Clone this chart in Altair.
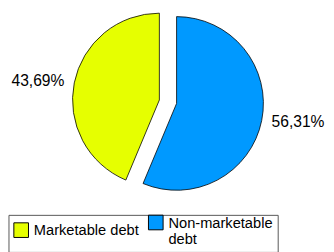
import math
import altair as alt
import pandas as pd

# ---- data ----
categories = ["Non-marketable debt", "Marketable debt"]
shares = [56.31, 43.69]
labels = ["56,31%", "43,69%"]
order = [0, 1]
legend_order = ["Marketable debt", "Non-marketable debt"]
legend_colors = ["#E6FF00", "#0099FF"]
title_text = "as of 31 December 2008"

FONT = "Liberation Sans"
EXPLODE = 9

df = pd.DataFrame({"category": categories, "share": shares, "label": labels, "order": order})

base = (
    alt.Chart(df)
    .transform_joinaggregate(total="sum(share)")
    .transform_window(cum="sum(share)", sort=[alt.SortField("order")], frame=[None, 0])
    .transform_calculate(
        start="(datum.cum - datum.share) / datum.total * 2 * PI",
        end="datum.cum / datum.total * 2 * PI",
        mid="(datum.cum - datum.share / 2) / datum.total * 2 * PI",
    )
)

# square symbol, raised so it sits level with the first line of each label
SQUARE_RAISED = "M-1,-1.69 L1,-1.69 L1,0.31 L-1,0.31 Z"

color = alt.Color(
    "category:N",
    scale=alt.Scale(domain=legend_order, range=legend_colors),
    legend=alt.Legend(
        title=None,
        orient="none",
        legendX=-1.5,
        legendY=209,
        direction="horizontal",
        columns=2,
        symbolType=SQUARE_RAISED,
        symbolSize=225,
        symbolStrokeColor="black",
        symbolStrokeWidth=1,
        symbolOpacity=1,
        labelFont=FONT,
        labelFontSize=15,
        labelColor="black",
        labelBaseline="alphabetic",
        labelLimit=300,
        labelOffset=5,
        columnPadding=7,
        padding=5,
        fillColor="white",
        strokeColor="#555555",
        labelExpr="datum.label == 'Non-marketable debt' ? ['Non-marketable', 'debt'] : datum.label",
    ),
)

# cumulative mid angles (from the data) for the explode offsets
total = sum(shares)
cum = 0.0
mids = {}
for c, s in zip(categories, shares):
    mids[c] = (cum + s / 2) / total * 2 * math.pi
    cum += s

label_adjust = {"Non-marketable debt": -6, "Marketable debt": 6}

layers = []
for c in categories:
    dx = EXPLODE * math.sin(mids[c])
    dy = -EXPLODE * math.cos(mids[c])
    b = base.transform_filter(alt.datum.category == c)
    arc = b.mark_arc(
        outerRadius=89, stroke="black", strokeWidth=0.8, xOffset=dx, yOffset=dy
    ).encode(
        theta=alt.Theta("start:Q", scale=None),
        theta2="end:Q",
        color=color,
    )
    txt = b.mark_text(
        radius=127, font=FONT, fontSize=16, color="black",
        xOffset=dx, yOffset=dy + label_adjust[c],
    ).encode(
        theta=alt.Theta("mid:Q", scale=None),
        text="label:N",
    )
    layers += [arc, txt]

chart = (
    alt.layer(*layers)
    .properties(
        width=324,
        height=186,
        padding={"left": 2, "top": 0, "right": 0, "bottom": 58},
        autosize=alt.AutoSizeParams(type="none"),
        title=alt.Title(title_text, font=FONT, fontSize=20, fontWeight="normal", color="black"),
    )
    .configure_view(stroke=None)
)

chart.save("out.html", embed_options={"renderer": "svg", "actions": False})
